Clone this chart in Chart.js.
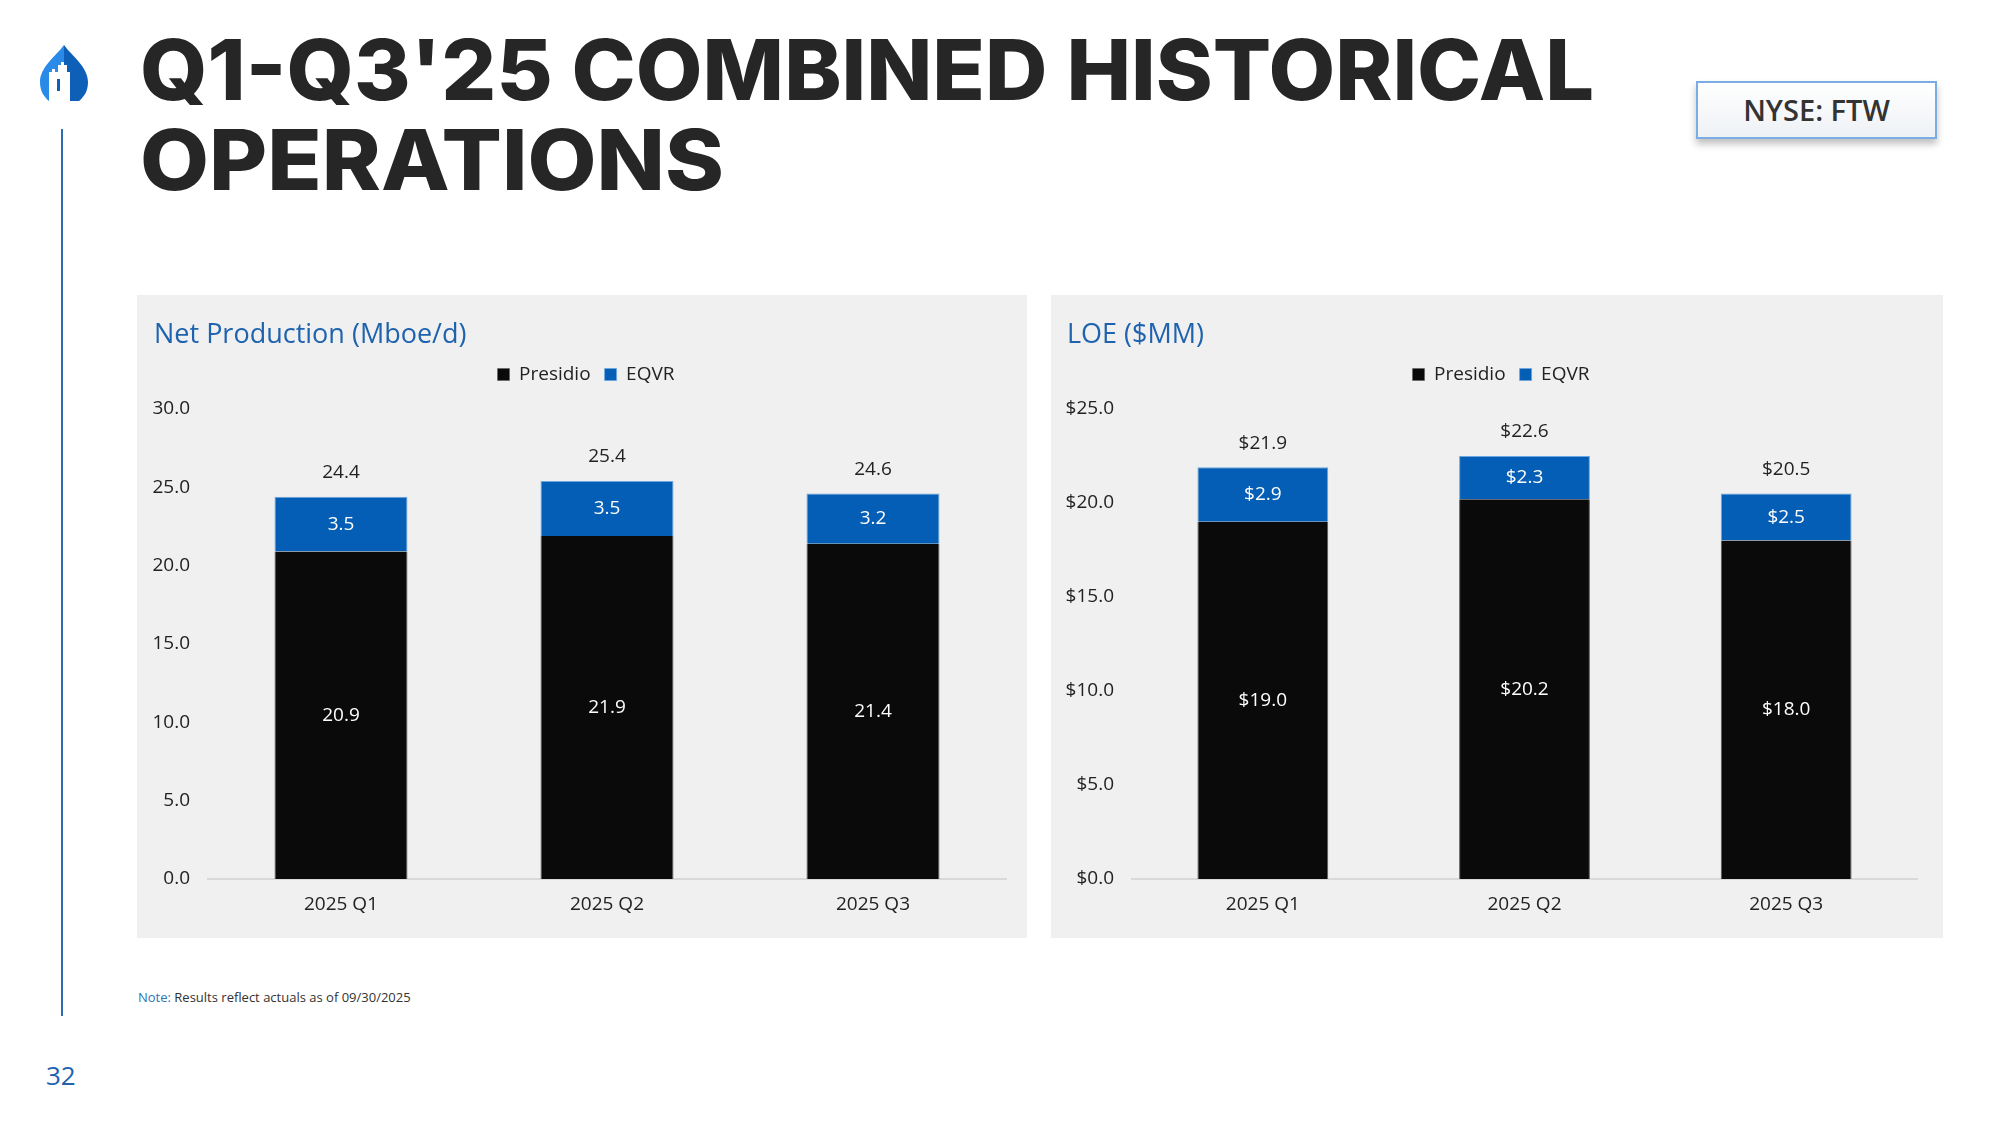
<!DOCTYPE html>
<html>
<head>
<meta charset="utf-8">
<script src="https://cdn.jsdelivr.net/npm/chart.js@4.4.1/dist/chart.umd.min.js"></script>
<style>
  body { margin: 0; width: 2000px; height: 1125px; background: #fff; position: relative; overflow: hidden; font-family: "Open Sans", sans-serif; }
  .abs { position: absolute; }
  .title { left: 140px; font-family: Inter, "Open Sans", sans-serif; font-weight: 800; font-size: 84px; line-height: 1; color: #262626; white-space: nowrap; transform-origin: 0 0; }
  .panel { background: #f0f0f0; }
  .ptitle { font-size: 27px; color: #1f63ae; white-space: nowrap; line-height: 1; }
  .nyse { left: 1696px; top: 81px; width: 241px; height: 58px; box-sizing: border-box; border: 2px solid #79ade3;
          background: linear-gradient(#ffffff, #eef1f5); box-shadow: 0 5px 7px rgba(0,0,0,0.25);
          font-size: 29px; font-weight: 600; color: #333; text-align: center; line-height: 54px; }
</style>
</head>
<body>
<svg class="abs" style="left:40px;top:45px" width="48" height="56" viewBox="0 0 48 56">
  <defs>
    <linearGradient id="lg" x1="0" x2="1" y1="0" y2="0">
      <stop offset="0.5" stop-color="#2a8ae8"/><stop offset="0.5" stop-color="#0d5fb8"/>
    </linearGradient>
  </defs>
  <path d="M24 0 C32 11 48 22 48 37 C48 46 44 52 39 56 L9 56 C4 52 0 46 0 37 C0 22 16 11 24 0 Z" fill="url(#lg)"/>
  <path d="M9 56 L9 27 L12 27 L12 24 L15 24 L15 27 L18 27 L18 20 L21 20 L21 17 L24 17 L24 20 L27 20 L27 27 L30 27 L30 56 Z" fill="#fff"/>
  <rect x="17" y="34" width="3" height="12" fill="#0d5fb8"/>
</svg>
<div class="abs" style="left:61px;top:129px;width:2px;height:887px;background:#2e6cb0"></div>

<div class="abs title" id="t1" style="top:28px">Q1-Q3'25 COMBINED HISTORICAL</div>
<div class="abs title" id="t2" style="top:118px">OPERATIONS</div>
<div class="abs nyse">NYSE: FTW</div>

<div class="abs panel" style="left:137px;top:295px;width:890px;height:643px">
  <canvas id="prodChart"></canvas>
  <div class="abs ptitle" style="left:17px;top:24px">Net Production (Mboe/d)</div>
</div>
<div class="abs panel" style="left:1051px;top:295px;width:892px;height:643px">
  <canvas id="loeChart"></canvas>
  <div class="abs ptitle" style="left:16px;top:24px">LOE ($MM)</div>
</div>

<div class="abs" style="left:138px;top:988px;font-size:13px;color:#333;white-space:nowrap"><span style="color:#2e75b6">Note:</span> Results reflect actuals as of 09/30/2025</div>
<div class="abs" style="left:46px;top:1057px;font-size:26px;color:#1f63ae">32</div>

<script>
const quarters = ['2025 Q1', '2025 Q2', '2025 Q3'];

const prodPresidio = [20.9, 21.9, 21.4];
const prodEqvr = [3.5, 3.5, 3.2];
const prodTotal = [24.4, 25.4, 24.6];

const loePresidio = [19.0, 20.2, 18.0];
const loeEqvr = [2.9, 2.3, 2.5];
const loeTotal = [21.9, 22.6, 20.5];

const PRESIDIO = '#0a0a0a';
const EQVR = '#045eb5';
const FONT = { family: '"Open Sans", sans-serif', size: 19 };

// inner segment labels + total on top
const barLabels = {
    id: 'barLabels',
    afterDatasetsDraw(chart, args, opts) {
        const ctx = chart.ctx;
        ctx.save();
        ctx.font = '19px "Open Sans", sans-serif';
        ctx.textAlign = 'center';
        ctx.textBaseline = 'middle';
        chart.data.datasets.forEach((ds, i) => {
            chart.getDatasetMeta(i).data.forEach((bar, j) => {
                ctx.fillStyle = '#ffffff';
                ctx.fillText(opts.fmt(ds.data[j]), bar.x, (bar.y + bar.base) / 2);
            });
        });
        const last = chart.getDatasetMeta(chart.data.datasets.length - 1);
        last.data.forEach((bar, j) => {
            ctx.fillStyle = '#222';
            ctx.fillText(opts.fmt(opts.totals[j]), bar.x, bar.y - 24);
        });
        ctx.restore();
    }
};

// extra gap under the legend, and centre it on the whole panel
const legendFix = {
    id: 'legendFix',
    beforeInit(chart) {
        const fit = chart.legend.fit;
        chart.legend.fit = function () {
            fit.bind(chart.legend)();
            this.height += 15;
        };
    },
    afterLayout(chart) {
        const pad = chart.options.layout.padding.right;
        chart.legend.left += 4;
        chart.legend.right += pad + 4;
    }
};

function makeChart(id, presidio, eqvr, totals, max, fmt, axisW, padRight) {
    return new Chart(document.getElementById(id), {
        type: 'bar',
        data: {
            labels: quarters,
            datasets: [
                { label: 'Presidio', data: presidio, backgroundColor: PRESIDIO, borderColor: '#5a5a5a', borderWidth: { left: 1, right: 1 }, borderSkipped: false },
                { label: 'EQVR', data: eqvr, backgroundColor: EQVR, borderColor: '#6aa6e0', borderWidth: { top: 1, left: 1, right: 1 }, borderSkipped: false }
            ]
        },
        options: {
            responsive: true, maintainAspectRatio: false, animation: false,
            layout: { padding: { top: 56, right: padRight, left: 0, bottom: 0 } },
            datasets: { bar: { barPercentage: 0.5, categoryPercentage: 1 } },
            plugins: {
                legend: {
                    position: 'top',
                    labels: { color: '#222', font: FONT, boxWidth: 12, boxHeight: 12, padding: 14 }
                },
                tooltip: { enabled: false },
                barLabels: { fmt: fmt, totals: totals }
            },
            scales: {
                x: {
                    stacked: true,
                    grid: { display: false, drawTicks: false },
                    border: { display: true, color: '#d9d9d9', width: 2 },
                    ticks: { color: '#222', font: FONT, padding: 14 },
                    afterFit(s) { s.height = 59; }
                },
                y: {
                    stacked: true, min: 0, max: max,
                    grid: { display: false, drawTicks: false },
                    border: { display: false },
                    ticks: { stepSize: 5, color: '#222', font: FONT, padding: 18, callback: v => fmt(v) },
                    afterFit(s) { s.width = axisW; }
                }
            }
        },
        plugins: [legendFix, barLabels]
    });
}

function fitTitle() {
    const t1 = document.getElementById('t1');
    const t2 = document.getElementById('t2');
    t1.style.transform = `scaleX(${1454 / t1.getBoundingClientRect().width})`;
    t2.style.transform = `scaleX(${584 / t2.getBoundingClientRect().width})`;
}

document.fonts.ready.then(() => {
    fitTitle();
    makeChart('prodChart', prodPresidio, prodEqvr, prodTotal, 30, v => v.toFixed(1), 71, 21);
    makeChart('loeChart', loePresidio, loeEqvr, loeTotal, 25, v => '$' + v.toFixed(1), 81, 26);
});
</script>
</body>
</html>
